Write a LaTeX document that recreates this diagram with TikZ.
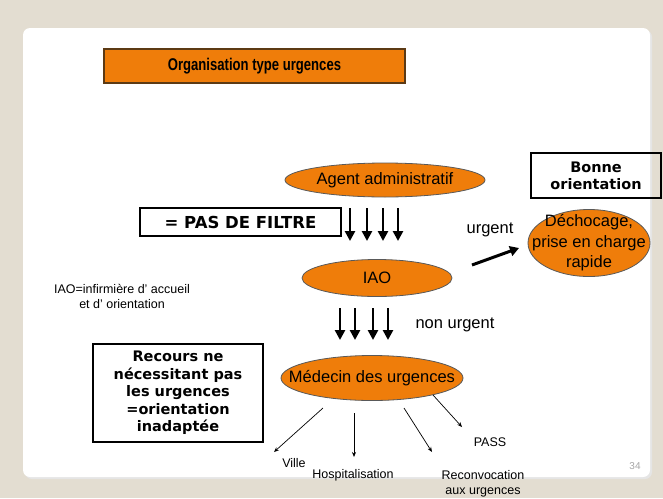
\documentclass[tikz,border=0pt]{standalone}
\usepackage{fontspec}
\setmainfont{Liberation Sans}
\newfontfamily\verd{DejaVu Sans}
\newfontfamily\narrowsans[FakeStretch=0.77]{Liberation Sans}
\usepackage{tikz}
\usetikzlibrary{arrows.meta,shapes.geometric}

\definecolor{slidebg}{HTML}{E3DDD1}
\definecolor{urgorange}{HTML}{EF7D0A}
\definecolor{titleline}{HTML}{5C3A14}

\begin{document}
\begin{tikzpicture}[x=1pt,y=-1pt,
    oval/.style={ellipse, draw=black!65, line width=0.8pt, fill=urgorange, inner sep=0pt},
    ovaltext/.style={font=\fontsize{16.5}{20.5}\selectfont, align=center, inner sep=0pt},
    heavybox/.style={draw, line width=2.9pt, inner sep=0pt, align=center,
      font=\verd\bfseries\fontsize{16.5}{17}\selectfont},
    smalltext/.style={font=\fontsize{12.5}{15.5}\selectfont, inner sep=0pt, align=center},
    fatarrow/.style={-{Triangle[length=10pt,width=10pt]}, line width=2.8pt},
    thinarrow/.style={-{Stealth[length=5pt,width=4pt]}, line width=0.7pt}]
    \useasboundingbox (0,0) rectangle (663,498);
    % slide background
    \fill[slidebg] (0,0) rectangle (663,498);
    \fill[black!10, rounded corners=7pt] (25,30) rectangle (652,479);
    \fill[white, rounded corners=7pt] (23,28) rectangle (650,477);

    \node[draw=titleline, line width=1.2pt, fill=urgorange, minimum width=301pt, minimum height=34pt,
      font=\narrowsans\bfseries\fontsize{17}{20}\selectfont] (title) at (254.5,66) {Organisation type urgences};

    % ellipses
    \node[oval, minimum width=200pt, minimum height=34pt,
      label={[ovaltext]center:Agent administratif}] (agent) at (385,180) {};
    \node[oval, minimum width=150pt, minimum height=37pt,
      label={[ovaltext]center:IAO}] (iao) at (377,278) {};
    \node[oval, minimum width=122pt, minimum height=67pt,
      label={[ovaltext]center:{Déchocage,\\prise en charge\\rapide}}] (dech) at (589,243) {};
    \node[oval, minimum width=182pt, minimum height=45pt,
      label={[ovaltext]center:Médecin des urgences}] (med) at (372,378) {};

    % framed comments
    \node[heavybox, minimum width=201pt, minimum height=28pt] (filtre) at (240.5,222) {= PAS DE FILTRE};
    \node[heavybox, minimum width=130pt, minimum height=45pt, font=\verd\bfseries\fontsize{14.5}{16.7}\selectfont]
      (bonne) at (596,175.5) {Bonne\\orientation};
    \node[heavybox, minimum width=170pt, minimum height=98pt, font=\verd\bfseries\fontsize{14.5}{17.6}\selectfont]
      (recours) at (178,393) {Recours ne\\nécessitant pas\\les urgences\\=orientation\\inadaptée};

    \node[smalltext] (def) at (122,296.5) {IAO=infirmière d’ accueil\\et d’ orientation};
    \node[ovaltext] (urg) at (490,230) {urgent};
    \node[ovaltext] (nonurg) at (455,325) {non urgent};

    % flows
    \foreach \x [count=\i] in {350,367,383,398} {
      \coordinate (fa\i) at (\x,208);
      \coordinate (fb\i) at (\x,241);
      \draw[fatarrow] (fa\i) -- (fb\i);
    }
    \foreach \x [count=\i] in {340,355,373,388} {
      \coordinate (ma\i) at (\x,308);
      \coordinate (mb\i) at (\x,340);
      \draw[fatarrow] (ma\i) -- (mb\i);
    }
    \coordinate (ua) at (472,265);
    \coordinate (ub) at (519,248);
    \draw[-{Triangle[length=9pt,width=10pt]}, line width=3pt] (ua) -- (ub);

    % exits
    \node[smalltext] (ville) at (294,463) {Ville};
    \node[smalltext] (hosp) at (353,475) {Hospitalisation};
    \node[smalltext] (reconv) at (483,484) {Reconvocation\\aux urgences};
    \node[smalltext] (pass) at (490,442) {PASS};
    \coordinate (v1) at (323,408);
    \coordinate (v2) at (274,452);
    \coordinate (h1) at (354,413);
    \coordinate (h2) at (354,457);
    \coordinate (r1) at (404,408);
    \coordinate (r2) at (432,452);
    \coordinate (p1) at (433,395);
    \coordinate (p2) at (462,427);
    \draw[thinarrow] (v1) -- (v2);
    \draw[thinarrow] (h1) -- (h2);
    \draw[thinarrow] (r1) -- (r2);
    \draw[thinarrow] (p1) -- (p2);

    \node[font=\fontsize{10}{12}\selectfont, text=black!35] (page) at (635,466) {34};
  \end{tikzpicture}
\end{document}
